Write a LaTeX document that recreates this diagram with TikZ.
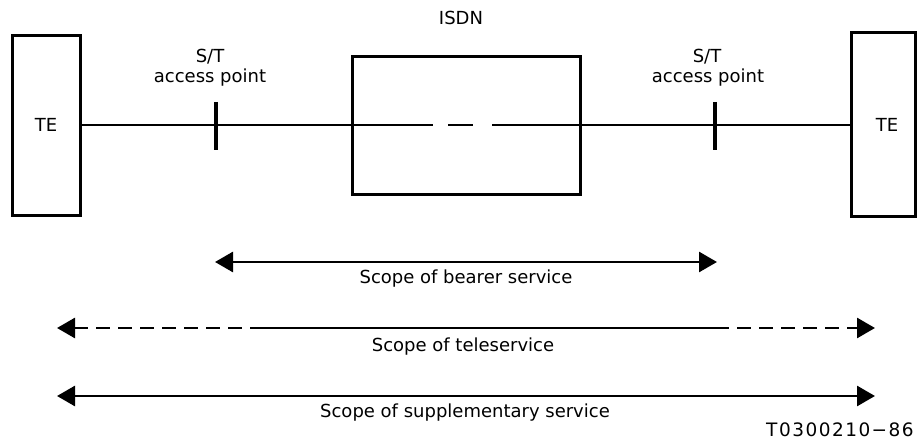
\documentclass[tikz,border=0pt]{standalone}
\usepackage{fontspec}
\setmainfont{DejaVu Sans}
\usetikzlibrary{arrows.meta}
\begin{document}
\begin{tikzpicture}[x=1pt,y=-1pt,
  box/.style={draw,line width=3pt,inner sep=0pt},
  lbl/.style={font=\fontsize{18}{21}\selectfont,inner sep=0pt},
  wire/.style={line width=2.2pt},
  tick/.style={line width=3.6pt},
  scopearrow/.style={line width=2.8pt},
  bigtip/.style={-{Triangle[length=18pt,width=20pt]}},
  bigtipl/.style={{Triangle[length=18pt,width=20pt]}-},
  bigtips/.style={{Triangle[length=18pt,width=20pt]}-{Triangle[length=18pt,width=20pt]}},
  dsh/.style={dash pattern=on 14pt off 8pt}]
\useasboundingbox (0,0) rectangle (921,446);
% boxes
\node[box,minimum width=68pt,minimum height=180pt] (teL) at (46,126) {};
\node[lbl] (teLt) at (46,125) {TE};
\node[box,minimum width=64pt,minimum height=184pt] (teR) at (883,125) {};
\node[lbl] (teRt) at (887,125) {TE};
\node[box,minimum width=228pt,minimum height=138pt] (isdn) at (466,126) {};
\node[lbl] (isdnt) at (461,18) {ISDN};
% access points
\node[lbl] (stL) at (210,57) {S/T};
\node[lbl] (apL) at (210,78) {access point};
\node[lbl] (stR) at (707,57) {S/T};
\node[lbl] (apR) at (708,78) {access point};
\coordinate (tLt) at (216,102); \coordinate (tLb) at (216,150);
\coordinate (tRt) at (715,102); \coordinate (tRb) at (715,150);
\draw[tick] (tLt) -- (tLb);
\draw[tick] (tRt) -- (tRb);
% main line
\coordinate (inA) at (433,125); \coordinate (inB) at (448,125);
\coordinate (inC) at (473,125); \coordinate (inD) at (492,125);
\draw[wire] (teL.east |- 0,125) -- (isdn.west |- 0,125) -- (inA);
\draw[wire] (inB) -- (inC);
\draw[wire] (inD) -- (isdn.east |- 0,125) -- (teR.west |- 0,125);
% scope arrows
\coordinate (bL) at (215,262); \coordinate (bR) at (717,262);
\draw[scopearrow,bigtips] (bL) -- (bR);
\node[lbl] (bT) at (466,279) {Scope of bearer service};
\coordinate (tL) at (57,328); \coordinate (tM1) at (250,328);
\coordinate (tM2) at (715,328); \coordinate (tR) at (875,328);
\draw[scopearrow,dsh,bigtipl] (tL) -- (tM1);
\draw[scopearrow] (tM1) -- (tM2);
\draw[scopearrow,dsh,bigtip] (tM2) -- (tR);
\node[lbl] (tT) at (463,347) {Scope of teleservice};
\coordinate (sL) at (57,396); \coordinate (sR) at (875,396);
\draw[scopearrow,bigtips] (sL) -- (sR);
\node[lbl] (sT) at (465,413) {Scope of supplementary service};
\node[lbl,font=\fontsize{18.5}{21}\selectfont\addfontfeature{LetterSpace=8}] (fig) at (840,430) {T0300210−86};
\end{tikzpicture}
\end{document}
